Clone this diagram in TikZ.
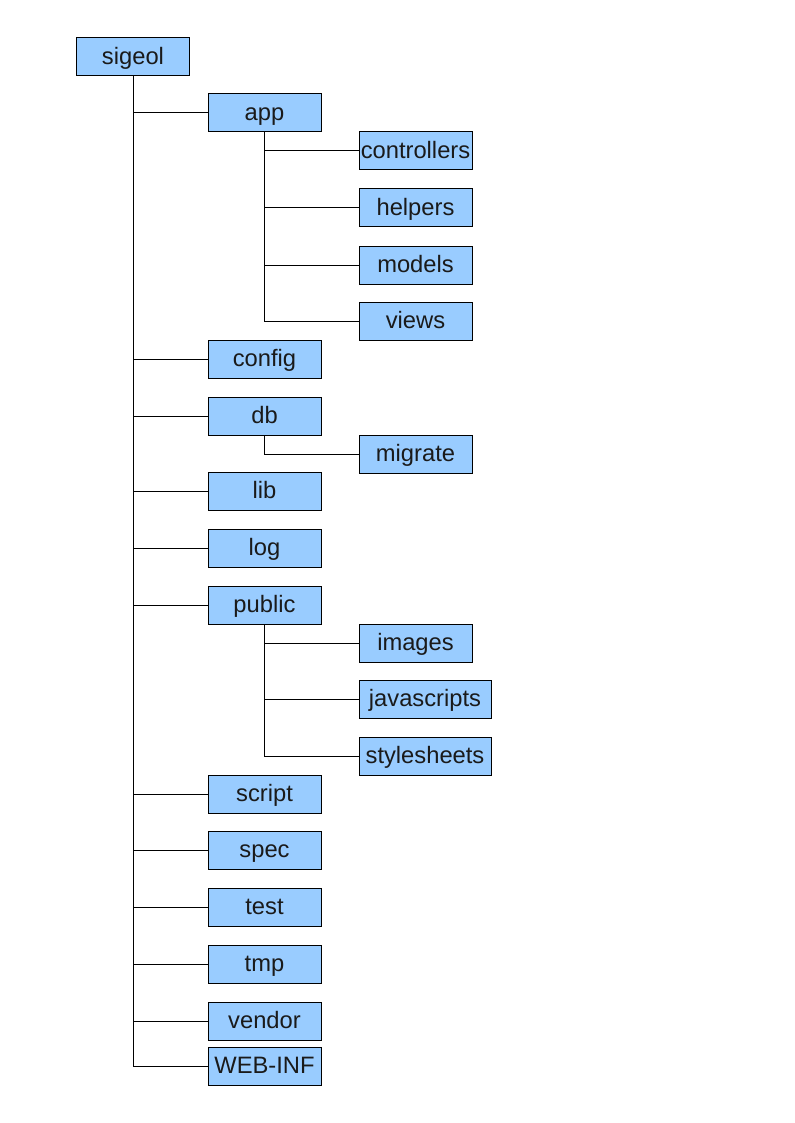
\documentclass[tikz,border=0pt]{standalone}
\usepackage{fontspec}
\setmainfont{Liberation Sans}
\usetikzlibrary{positioning}
\tikzstyle{sheet} = [x = 0.75pt, y = -0.75pt]
\definecolor{folderColor}{HTML}{99CCFF}
\definecolor{labelColor}{HTML}{1A1A1A}
\tikzstyle{folderStyle} = [draw=black, fill=folderColor, text=labelColor, line width=0.75pt, inner sep=0pt, minimum width=84.75pt, minimum height=28.5pt, text height=13pt, text depth=2pt, font=\fontsize{17.8}{20}\selectfont]
\tikzstyle{wideFolderStyle} = [folderStyle, minimum width=99pt]
\tikzstyle{treeLine} = [color=black, line width=0.75pt]
\newcommand{\folder}[4]{\node [folderStyle] (#1) at (#3, #4) {#2};}
\newcommand{\wideFolder}[4]{\node [wideFolderStyle] (#1) at (#3, #4) {#2};}
\newcommand{\branch}[2]{\draw [treeLine] (#1.south) |- (#2.west);}

\begin{document}
\begin{tikzpicture}[sheet]
  \useasboundingbox (0,0) rectangle (794,1123);
  \folder{sigeol}{sigeol}{133}{57}

  \folder{app}{app}{264.5}{113}
  \folder{controllers}{controllers}{415.5}{151}
  \folder{helpers}{helpers}{415.5}{208}
  \folder{models}{models}{415.5}{265}
  \folder{views}{views}{415.5}{321}
  \folder{config}{config}{264.5}{359}
  \folder{db}{db}{264.5}{416}
  \folder{migrate}{migrate}{415.5}{454}
  \folder{lib}{lib}{264.5}{491}
  \folder{log}{log}{264.5}{548}
  \folder{public}{public}{264.5}{605}
  \folder{images}{images}{415.5}{643}
  \wideFolder{javascripts}{javascripts}{425}{699}
  \wideFolder{stylesheets}{stylesheets}{425}{756}
  \folder{script}{script}{264.5}{794}
  \folder{spec}{spec}{264.5}{850}
  \folder{test}{test}{264.5}{907}
  \folder{tmp}{tmp}{264.5}{964}
  \folder{vendor}{vendor}{264.5}{1021}
  \folder{webinf}{WEB-INF}{264.5}{1066}

  \foreach \child in {app,config,db,lib,log,public,script,spec,test,tmp,vendor,webinf} {
    \branch{sigeol}{\child}
  }
  \foreach \child in {controllers,helpers,models,views} {
    \branch{app}{\child}
  }
  \branch{db}{migrate}
  \foreach \child in {images,javascripts,stylesheets} {
    \branch{public}{\child}
  }
\end{tikzpicture}
\end{document}
